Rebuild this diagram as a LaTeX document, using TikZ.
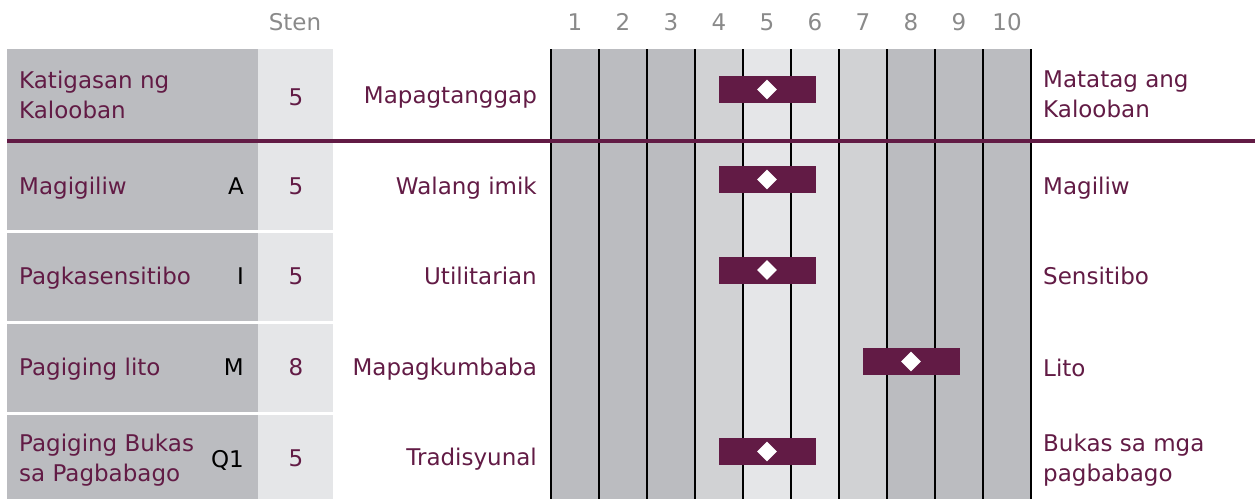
\documentclass[tikz,border=0pt]{standalone}
\usepackage{fontspec}
\setmainfont{DejaVu Sans}
\usetikzlibrary{shapes.geometric}
\definecolor{plum}{RGB}{98,27,69}
\definecolor{darkgrey}{RGB}{187,188,192}
\definecolor{midgrey}{RGB}{209,210,212}
\definecolor{lightgrey}{RGB}{229,230,232}
\definecolor{headgrey}{RGB}{138,138,138}
\tikzset{
	txt/.style={text=plum, font=\fontsize{23}{30}\selectfont, inner sep=0pt},
	one/.style={txt, text height=16.7pt, text depth=0pt},
	two/.style={txt, align=left, anchor=west},
	factor/.style={one, text=black, anchor=east},
	head/.style={text=headgrey, font=\fontsize{23}{26}\selectfont, inner sep=0pt, text height=16.5pt, text depth=0pt},
	bar/.style={fill=plum, minimum width=97pt, minimum height=27pt, inner sep=0pt},
	gem/.style={diamond, fill=white, minimum width=20pt, minimum height=20pt, inner sep=0pt}
}
\begin{document}
\begin{tikzpicture}[x=1pt,y=-1pt]
		\useasboundingbox (0,0) rectangle (1255,499);
		\fill[darkgrey] (551,49) rectangle (695,499);
		\fill[midgrey] (695,49) rectangle (743,499);
		\fill[lightgrey] (743,49) rectangle (839,499);
		\fill[midgrey] (839,49) rectangle (887,499);
		\fill[darkgrey] (887,49) rectangle (1031,499);
		\foreach \i in {0,...,10}
			\draw[line width=1.5pt] (551+48*\i,49) -- (551+48*\i,499);
		\foreach \t/\b in {49/139,143/229.5,233/321,324/412,415/499} {
			\fill[darkgrey] (7,\t) rectangle (258,\b);
			\fill[lightgrey] (258,\t) rectangle (333,\b);
		}
		\draw[plum, line width=3.2pt] (7,141) -- (1255,141);
		\node[head] (sten) at (295,22.5) {Sten};
		\foreach \i in {1,...,10}
			\node[head] (n\i) at (527+48*\i,22.5) {\i};

		\node[two] (k1) at (19,94.5) {Katigasan ng\\Kalooban};
		\node[one] (s1) at (296,97) {5};
		\node[one, anchor=east] (l1) at (537,95.5) {Mapagtanggap};
		\node[two] (r1) at (1043,94.5) {Matatag ang\\Kalooban};
		\node[bar] (b1) at (767,89.5) {};
		\node[gem] (d1) at (b1) {};

		\node[one, anchor=west] (k2) at (19,186) {Magigiliw};
		\node[factor] (f2) at (244,186) {A};
		\node[one] (s2) at (296,186) {5};
		\node[one, anchor=east] (l2) at (537,186) {Walang imik};
		\node[one, anchor=west] (r2) at (1043,186) {Magiliw};
		\node[bar] (b2) at (767,179.5) {};
		\node[gem] (d2) at (b2) {};

		\node[one, anchor=west] (k3) at (19,276.5) {Pagkasensitibo};
		\node[factor] (f3) at (244,276.5) {I};
		\node[one] (s3) at (296,276.5) {5};
		\node[one, anchor=east] (l3) at (537,276.5) {Utilitarian};
		\node[one, anchor=west] (r3) at (1043,276.5) {Sensitibo};
		\node[bar] (b3) at (767,270) {};
		\node[gem] (d3) at (b3) {};

		\node[one, anchor=west] (k4) at (19,367.5) {Pagiging lito};
		\node[factor] (f4) at (244,367.5) {M};
		\node[one] (s4) at (296,367.5) {8};
		\node[one, anchor=east] (l4) at (537,367.5) {Mapagkumbaba};
		\node[one, anchor=west] (r4) at (1043,368.5) {Lito};
		\node[bar] (b4) at (911,361.5) {};
		\node[gem] (d4) at (b4) {};

		\node[two] (k5) at (19,460) {Pagiging Bukas\\sa Pagbabago};
		\node[factor] (f5) at (244,459) {Q1};
		\node[one] (s5) at (296,458.5) {5};
		\node[one, anchor=east] (l5) at (537,457.5) {Tradisyunal};
		\node[two] (r5) at (1043,460) {Bukas sa mga\\pagbabago};
		\node[bar] (b5) at (767,451.5) {};
		\node[gem] (d5) at (b5) {};
	\end{tikzpicture}
\end{document}
